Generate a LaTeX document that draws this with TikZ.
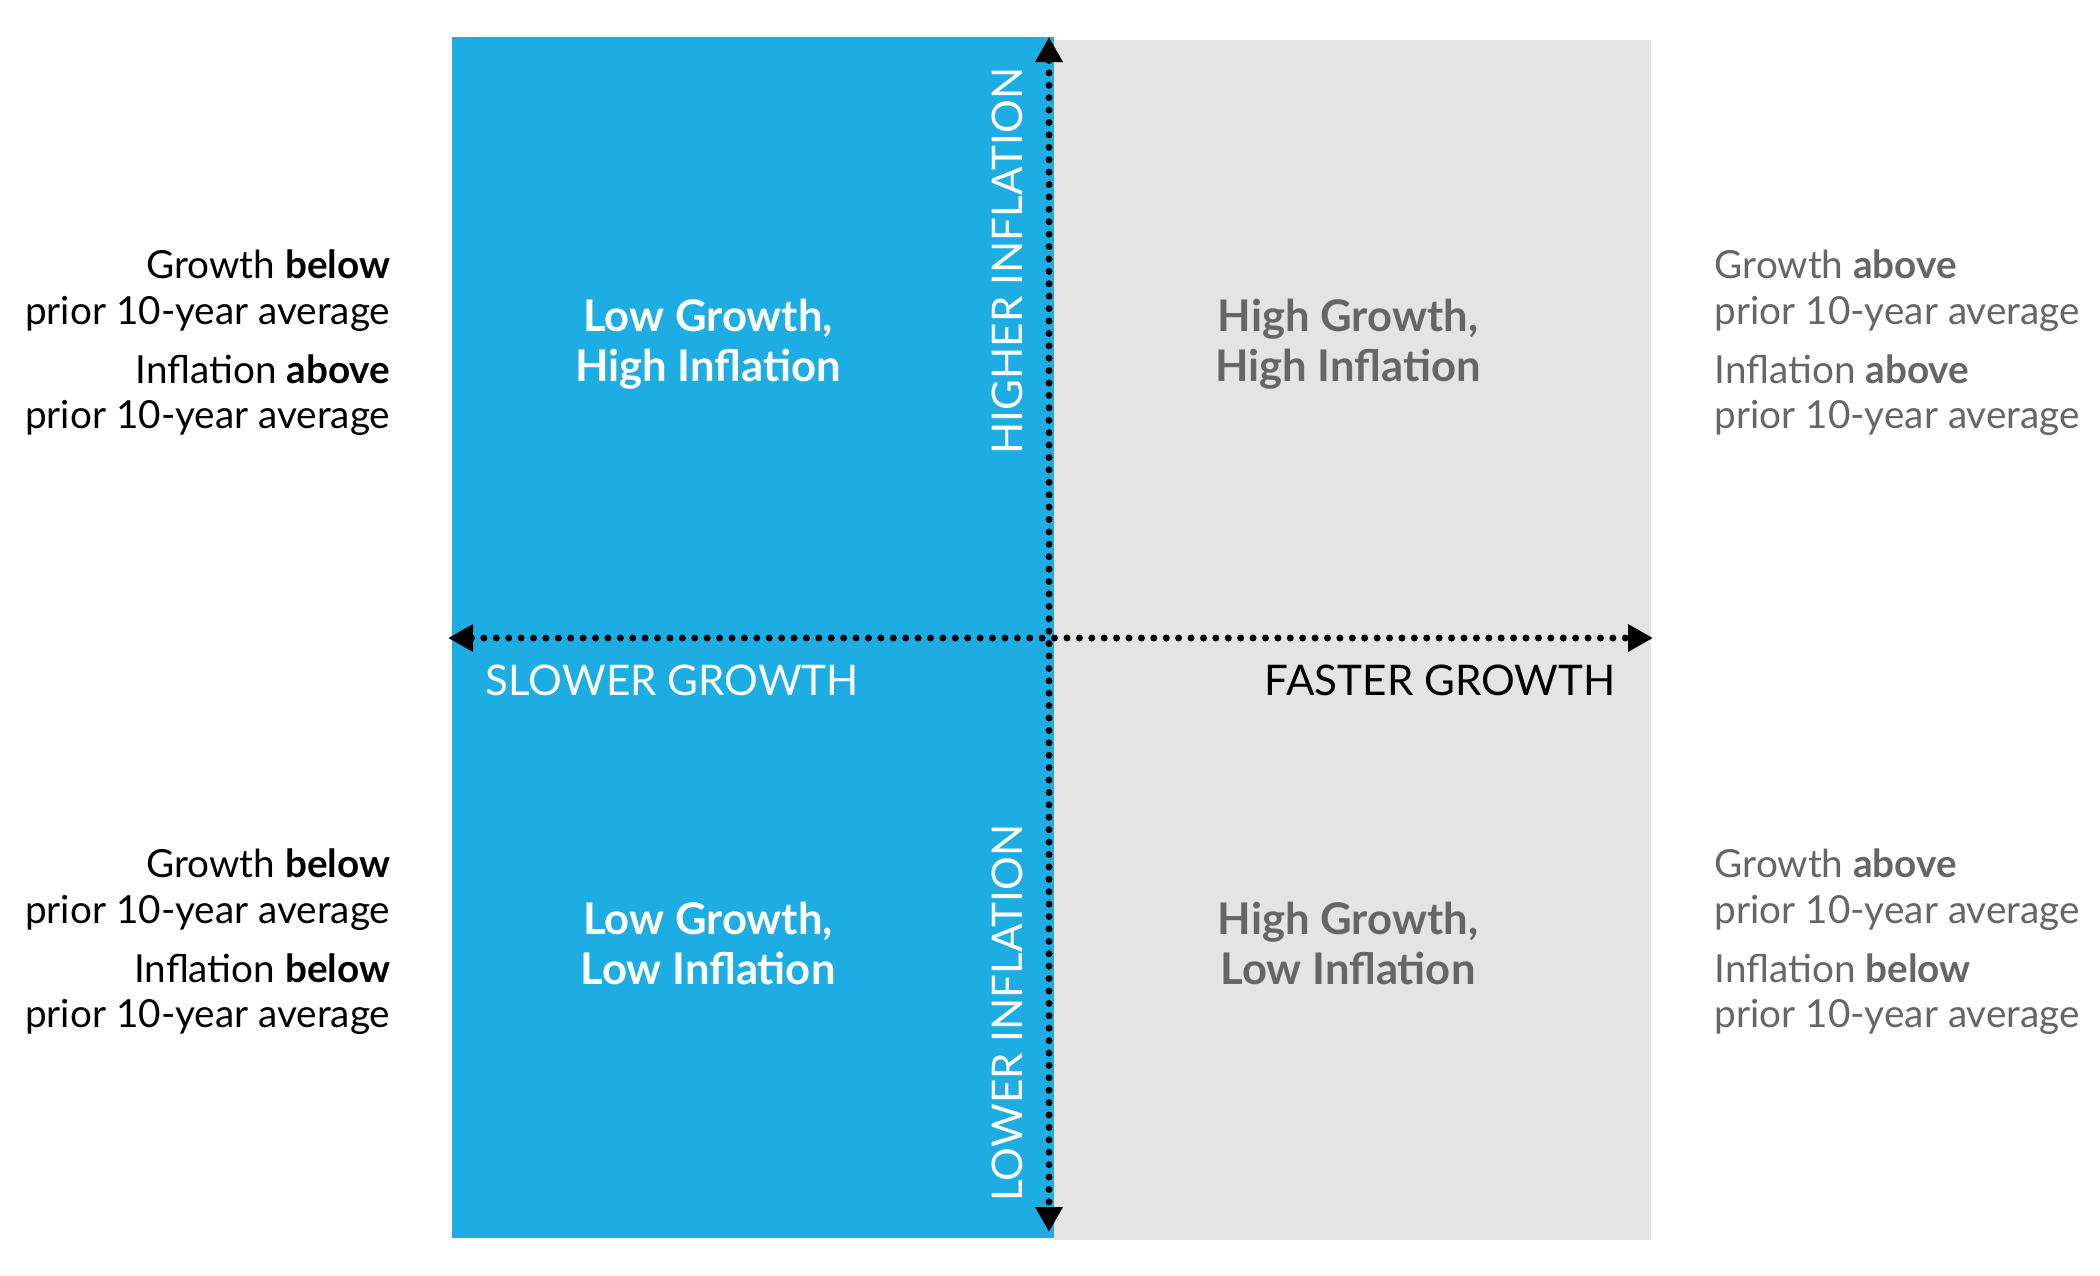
\documentclass[tikz,border=0pt]{standalone}
\usepackage{fontspec}
\setmainfont{Lato}
\usetikzlibrary{arrows.meta}
\definecolor{quadblue}{HTML}{1EADE2}
\definecolor{quadgray}{HTML}{E4E4E4}
\definecolor{notegray}{HTML}{666666}

\begin{document}
\begin{tikzpicture}[x=0.01cm,y=-0.01cm,
  note/.style={font=\fontsize{11}{13}\selectfont,inner sep=0pt},
  quad/.style={font=\fontsize{12.4}{14.2}\selectfont\bfseries,align=center,inner sep=0pt},
  axislab/.style={font=\fontsize{12}{14}\selectfont,inner sep=0pt},
  dotaxis/.style={line width=0.07cm,line cap=round,dash pattern=on 0pt off 0.124cm,
    {Triangle[length=0.25cm,width=0.26cm]}-{Triangle[length=0.25cm,width=0.26cm]}}]
  \useasboundingbox (0,0) rectangle (2100,1275);
  % the two halves
  \fill[quadgray] (1054,40) rectangle (1651,1240);
  \fill[quadblue] (452,37) rectangle (1054,1238);
  % axes
  \coordinate (westend) at (448,638);
  \coordinate (eastend) at (1653,638);
  \coordinate (northend) at (1049,37);
  \coordinate (southend) at (1049,1232);
  \draw[dotaxis] (westend) -- (eastend);
  \draw[dotaxis] (northend) -- (southend);
  \node[axislab,white,anchor=west] (slower) at (485,680) {SLOWER GROWTH};
  \node[axislab,anchor=east] (faster) at (1616,680) {FASTER GROWTH};
  \node[axislab,white,rotate=90,anchor=west] (higher) at (1007,455) {HIGHER INFLATION};
  \node[axislab,white,rotate=90,anchor=west] (lower) at (1007,1202) {LOWER INFLATION};
  % quadrant names
  \node[quad,white] (lghi) at (708,344) {Low Growth,\\High Inflation};
  \node[quad,white] (lgli) at (708,943) {Low Growth,\\Low Inflation};
  \node[quad,notegray] (hghi) at (1348,344) {High Growth,\\High Inflation};
  \node[quad,notegray] (hgli) at (1348,943) {High Growth,\\Low Inflation};
  % side notes
  \foreach \nm/\y/\infl in {up/343/above,low/942/below}{
    \node[note,anchor=east,align=right] (\nm left) at (391,\y)
      {Growth \textbf{below}\\prior 10-year average\\[3.6pt]Inflation \textbf{\infl}\\prior 10-year average};
    \node[note,notegray,anchor=west,align=left] (\nm right) at (1714,\y)
      {Growth \textbf{above}\\prior 10-year average\\[3.6pt]Inflation \textbf{\infl}\\prior 10-year average};
  }
\end{tikzpicture}
\end{document}
